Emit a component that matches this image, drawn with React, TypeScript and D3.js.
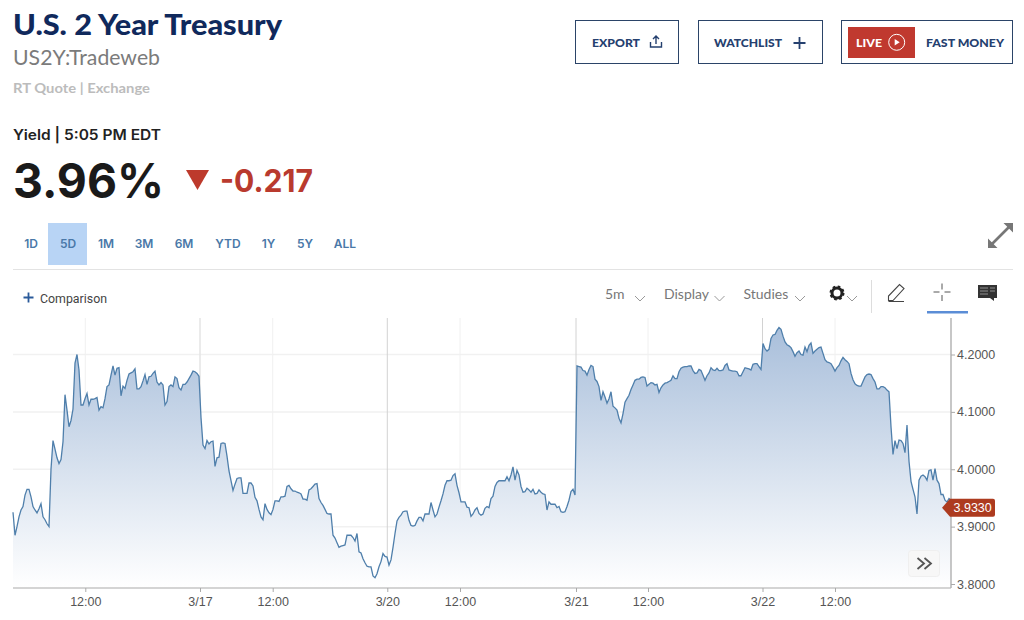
import { useEffect, useRef } from "react";
import * as d3 from "d3";

// yield readings, one every 4 bars of the 5-minute chart, split by session
const session0316 = [
  3.925, 3.885, 3.9, 3.917, 3.929, 3.935, 3.955, 3.965, 3.965, 3.952, 3.935, 3.929, 3.924, 3.931, 3.94, 3.917,
  3.912, 3.905, 3.9, 4.0, 4.05, 4.035, 4.02, 4.01, 4.017, 4.048, 4.13, 4.103, 4.074, 4.085, 4.105, 4.185,
  4.2, 4.173, 4.112, 4.112, 4.123, 4.132, 4.112, 4.122, 4.122, 4.123, 4.125, 4.103, 4.109, 4.107, 4.123, 4.144,
  4.147, 4.164, 4.18, 4.164, 4.176, 4.177, 4.128, 4.145, 4.141, 4.155, 4.166, 4.168, 4.17, 4.175, 4.14, 4.14,
  4.144, 4.154, 4.165, 4.148, 4.161, 4.162, 4.167, 4.171, 4.152, 4.147, 4.151, 4.147, 4.112, 4.118, 4.144, 4.147,
  4.144, 4.161, 4.158, 4.142, 4.138, 4.148, 4.148, 4.152, 4.158, 4.164, 4.171, 4.17, 4.167, 4.162,
];
const session0317 = [
  4.09, 4.042, 4.036, 4.05, 4.044, 4.048, 4.049, 4.005, 4.02, 4.021, 4.045, 4.046, 4.045, 4.023, 3.997, 3.98,
  3.963, 3.974, 3.984, 3.985, 3.985, 3.958, 3.958, 3.958, 3.976, 3.976, 3.971, 3.951, 3.945, 3.93, 3.917, 3.912,
  3.94, 3.93, 3.924, 3.921, 3.93, 3.945, 3.945, 3.944, 3.952, 3.952, 3.953, 3.97, 3.972, 3.966, 3.962, 3.962,
  3.96, 3.959, 3.957, 3.948, 3.948, 3.946, 3.964, 3.966, 3.97, 3.974, 3.975, 3.949, 3.942, 3.937, 3.93, 3.923,
  3.922, 3.922, 3.885, 3.88, 3.872, 3.864, 3.866, 3.867, 3.868, 3.885, 3.885, 3.885, 3.881, 3.875, 3.888, 3.856,
  3.854, 3.844, 3.837, 3.831, 3.83, 3.83, 3.814, 3.811, 3.818, 3.83, 3.839, 3.853, 3.848, 3.847, 3.833,
];
const session0320 = [
  3.842, 3.864, 3.888, 3.91, 3.916, 3.92, 3.926, 3.927, 3.927, 3.911, 3.902, 3.901, 3.902, 3.91, 3.916, 3.916,
  3.91, 3.922, 3.922, 3.922, 3.942, 3.929, 3.917, 3.922, 3.934, 3.945, 3.957, 3.972, 3.98, 3.98, 3.981, 3.989,
  3.992, 3.972, 3.959, 3.943, 3.943, 3.943, 3.934, 3.933, 3.918, 3.922, 3.929, 3.933, 3.923, 3.92, 3.922, 3.932,
  3.935, 3.933, 3.949, 3.953, 3.97, 3.977, 3.98, 3.98, 3.98, 3.98, 3.987, 3.98, 3.99, 4.004, 3.981, 3.998,
  3.99, 3.97, 3.96, 3.961, 3.967, 3.964, 3.96, 3.965, 3.957, 3.958, 3.964, 3.96, 3.957, 3.956, 3.929, 3.943,
  3.939, 3.939, 3.939, 3.933, 3.935, 3.926, 3.925, 3.926, 3.935, 3.946, 3.961, 3.965, 3.955,
];
const session0321 = [
  4.18, 4.179, 4.178, 4.172, 4.171, 4.164, 4.174, 4.181, 4.179, 4.157, 4.153, 4.144, 4.12, 4.135, 4.126, 4.115,
  4.123, 4.135, 4.11, 4.107, 4.103, 4.089, 4.081, 4.097, 4.117, 4.123, 4.129, 4.139, 4.147, 4.155, 4.157, 4.157,
  4.16, 4.161, 4.16, 4.145, 4.148, 4.151, 4.15, 4.147, 4.148, 4.134, 4.142, 4.147, 4.15, 4.151, 4.153, 4.155,
  4.163, 4.158, 4.158, 4.17, 4.176, 4.178, 4.179, 4.179, 4.18, 4.18, 4.172, 4.167, 4.168, 4.174, 4.172, 4.164,
  4.155, 4.163, 4.168, 4.177, 4.173, 4.172, 4.176, 4.172, 4.172, 4.173, 4.181, 4.184, 4.173, 4.172, 4.171, 4.171,
  4.17, 4.163, 4.163, 4.17, 4.177, 4.176, 4.175, 4.173, 4.183, 4.184, 4.184, 4.179, 4.174,
];
const session0322 = [
  4.219, 4.21, 4.206, 4.209, 4.228, 4.234, 4.235, 4.242, 4.247, 4.244, 4.232, 4.222, 4.217, 4.215, 4.212, 4.205,
  4.197, 4.203, 4.206, 4.2, 4.199, 4.213, 4.205, 4.216, 4.22, 4.202, 4.206, 4.209, 4.212, 4.213, 4.202, 4.191,
  4.187, 4.186, 4.184, 4.178, 4.171, 4.177, 4.181, 4.189, 4.195, 4.191, 4.188, 4.184, 4.167, 4.156, 4.149, 4.146,
  4.145, 4.145, 4.153, 4.161, 4.165, 4.166, 4.165, 4.158, 4.152, 4.14, 4.14, 4.144, 4.144, 4.142, 4.138, 4.135,
  4.074, 4.026, 4.05, 4.036, 4.051, 4.05, 4.045, 4.029, 4.077, 4.014, 3.979, 3.965, 3.952, 3.922, 3.981, 3.988,
  3.99, 3.987, 3.981, 3.998, 3.999, 3.981, 4.001, 3.981, 3.975, 3.956, 3.956, 3.946, 3.943, 3.949, 3.946,
];
const yields = [...session0316, ...session0317, ...session0320, ...session0321, ...session0322];

const yTicks = [3.8, 3.9, 4.0, 4.1, 4.2];
const timeTicks = [36.15, 93.5, 129.85, 187.15, 223.5, 281.5, 317.5, 374.75, 411];
const timeLabels = ["12:00", "3/17", "12:00", "3/20", "12:00", "3/21", "12:00", "3/22", "12:00"];
const lastQuote = 3.933;

const ranges = ["1D", "5D", "1M", "3M", "6M", "YTD", "1Y", "5Y", "ALL"];
const rangeCenters = [31, 68, 106, 144, 184, 228, 268.5, 305, 345];

const left = 13;
const right = 951;
const top = 318;
const bottom = 588;

const x = d3.scaleLinear().domain([0, yields.length - 1]).range([left, right]);
const y = d3.scaleLinear().domain([3.8, 4.2]).range([584, 354.5]);

const HEAD = "Lato, 'Open Sans', sans-serif";
const NUMS = "Inter, 'Open Sans', sans-serif";
const CHART = "'Liberation Sans', Arial, sans-serif";
const NAVY = "#25406f";

function Chevron({ cx, cy }: { cx: number; cy: number }) {
  return <path d={`M${cx - 5},${cy - 2}L${cx},${cy + 3}L${cx + 5},${cy - 2}`} fill="none" stroke="#999" strokeWidth={1} />;
}

export default function App() {
  const xAxisRef = useRef<SVGGElement>(null);
  const yAxisRef = useRef<SVGGElement>(null);

  useEffect(() => {
    const xAxis = d3.axisBottom(x)
      .tickValues(timeTicks)
      .tickSize(4)
      .tickPadding(5)
      .tickFormat((_, i) => timeLabels[i]);
    const yAxis = d3.axisRight(y)
      .tickValues(yTicks)
      .tickSize(4)
      .tickPadding(2)
      .tickFormat(d3.format(".4f") as any);

    const gx = d3.select(xAxisRef.current!).call(xAxis as any);
    const gy = d3.select(yAxisRef.current!).call(yAxis as any);
    gx.select(".domain").remove();
    gy.select(".domain").remove();
    for (const g of [gx, gy]) {
      g.selectAll("line").attr("stroke", "#aaa");
      g.selectAll("text").attr("fill", "#555").style("font-family", CHART);
    }
    gx.selectAll("text").style("font-size", "12.5px");
    gy.selectAll("text").style("font-size", "12.5px");
  }, []);

  const line = d3.line<number>().x((_, i) => x(i)).y(d => y(d));
  const area = d3.area<number>().x((_, i) => x(i)).y0(bottom).y1(d => y(d));
  const tagY = y(lastQuote);

  return (
    <svg width={1024} height={620} style={{ position: "absolute", left: 0, top: 0, background: "#fff" }}>
      <defs>
        <linearGradient id="fade" gradientUnits="userSpaceOnUse" x1={0} y1={328} x2={0} y2={588}>
          <stop offset="0%" stopColor="#a9bfdb" />
          <stop offset="100%" stopColor="#ffffff" />
        </linearGradient>
      </defs>

      {/* header */}
      <g fontFamily={HEAD}>
        <text x={13} y={35} fontSize={28} fontWeight={900} fill="#10295c" textLength={269} lengthAdjust="spacingAndGlyphs">U.S. 2 Year Treasury</text>
        <text x={13} y={65} fontSize={20.5} fill="#7b7b7b" textLength={147} lengthAdjust="spacingAndGlyphs">US2Y:Tradeweb</text>
        <text x={13} y={93} fontSize={14} fontWeight={700} fill="#bcbcbc" textLength={137} lengthAdjust="spacingAndGlyphs">RT Quote | Exchange</text>
        <text x={13} y={140} fontFamily={NUMS} fontSize={14.5} fontWeight={600} fill="#222" textLength={148} lengthAdjust="spacingAndGlyphs">Yield | 5:05 PM EDT</text>
        <text x={13} y={198} fontFamily={NUMS} fontSize={48} fontWeight={700} fill="#1a1a1a" textLength={151} lengthAdjust="spacingAndGlyphs">3.96%</text>
        <path d="M186,170L209,170L197.5,190Z" fill="#bd3a2c" />
        <text x={220} y={192} fontFamily={NUMS} fontSize={31} fontWeight={700} fill="#b93a2e" textLength={93} lengthAdjust="spacingAndGlyphs">-0.217</text>
      </g>

      {/* action buttons */}
      <g fontFamily={HEAD} fontSize={12} fontWeight={900} fill={NAVY}>
        <rect x={575.5} y={20.5} width={103} height={43} fill="none" stroke="#2b4468" />
        <text x={592} y={46.5} textLength={48} lengthAdjust="spacingAndGlyphs">EXPORT</text>
        <path d="M656,44V36M653,39L656,36L659,39M650.500,42V47H661.500V42" fill="none" stroke={NAVY} strokeWidth={1.4} />
        <rect x={698.5} y={20.5} width={124} height={43} fill="none" stroke="#2b4468" />
        <text x={714} y={46.5} textLength={68} lengthAdjust="spacingAndGlyphs">WATCHLIST</text>
        <path d="M799.500,37V49M793.500,43H805.500" fill="none" stroke={NAVY} strokeWidth={1.8} />
        <rect x={841.5} y={20.5} width={171} height={43} fill="none" stroke="#2b4468" />
        <rect x={848} y={27} width={67} height={31} fill="#c0392f" />
        <text x={856} y={46.5} fill="#fff" textLength={26} lengthAdjust="spacingAndGlyphs">LIVE</text>
        <circle cx={896.7} cy={42.3} r={8} fill="none" stroke="#fff" strokeWidth={1} />
        <path d="M894.700,39L899.700,42.300L894.700,45.600Z" fill="#fff" />
        <text x={926} y={46.5} textLength={78} lengthAdjust="spacingAndGlyphs">FAST MONEY</text>
      </g>

      {/* range selector */}
      <rect x={48} y={223} width={39} height={42} fill="#b8d4f5" />
      <g fontFamily={NUMS} fontSize={12} fontWeight={600} fill="#4a78a8" textAnchor="middle">
        {ranges.map((r, i) => (
          <text key={r} x={rangeCenters[i]} y={248}>{r}</text>
        ))}
      </g>
      <path d="M988,248V238.500L997.500,248ZM1013,223V232.500L1003.500,223Z" fill="#777" />
      <line x1={992} y1={244} x2={1009} y2={227} stroke="#777" strokeWidth={2.6} />
      <line x1={13} x2={1013} y1={269.5} y2={269.5} stroke="#e3e3e3" />

      {/* toolbar */}
      <path d="M28.500,292.500V302.500M23.500,297.500H33.500" stroke="#2a5a9a" strokeWidth={1.8} />
      <text x={40} y={303} fontFamily="Roboto, sans-serif" fontSize={12} fill="#444" textLength={67} lengthAdjust="spacingAndGlyphs">Comparison</text>
      <g fontFamily={HEAD} fontSize={14} fill="#777">
        <text x={605} y={299}>5m</text>
        <text x={664} y={299}>Display</text>
        <text x={743.5} y={299}>Studies</text>
      </g>
      <Chevron cx={640} cy={298} />
      <Chevron cx={719.500} cy={298} />
      <Chevron cx={800} cy={298} />
      <Chevron cx={852} cy={298} />
      <circle cx={837} cy={293} r={5} fill="none" stroke="#222" strokeWidth={3} />
      <circle cx={837} cy={293} r={6.500} fill="none" stroke="#222" strokeWidth={2} strokeDasharray="2.600 2.500" />
      <line x1={871.5} x2={871.5} y1={280} y2={313} stroke="#ddd" />
      <path d="M888.500,300.500V296L899.500,284.500L904,288.500L893,300.500ZM888.500,301.500H904" fill="none" stroke="#444" strokeWidth={1.1} />
      <path d="M942,283.500V289.500M942,295V301M933.500,292H939.500M944.500,292H950.500" stroke="#555" strokeWidth={1} />
      <rect x={927} y={311} width={41} height={2.5} fill="#5b8dd6" />
      <path d="M978,285H997V298H994V301L990,298H978Z" fill="#333" />
      <path d="M980,288H988M980,291H988M980,294H988M990,288H995M990,291H995" stroke="#aaa" strokeWidth={0.8} />

      {/* grid */}
      {yTicks.map(t => (
        <line key={t} x1={left} x2={right} y1={y(t)} y2={y(t)} stroke="#f1f1f1" strokeWidth={1.5} />
      ))}
      {timeTicks.map((t, i) => {
        const isDate = timeLabels[i].includes("/");
        return (
          <line key={t} x1={x(t)} x2={x(t)} y1={top} y2={bottom}
            stroke={isDate ? (i === 1 ? "#e4e4e4" : "#d2d2d2") : "#f0f0f0"} strokeWidth={i === 1 ? 1.5 : 1} />
        );
      })}

      {/* series */}
      <path d={area(yields)!} fill="url(#fade)" />
      <path d={line(yields)!} fill="none" stroke="#4f7fab" strokeWidth={1.3} />

      {/* axes */}
      <line x1={left} x2={right} y1={bottom} y2={bottom} stroke="#c6c6c6" strokeWidth={1.5} />
      <line x1={right} x2={right} y1={top} y2={bottom} stroke="#b5b5b5" strokeWidth={1.5} />
      <g ref={xAxisRef} transform={`translate(0,${bottom})`} />
      <g ref={yAxisRef} transform={`translate(${right},0)`} />

      {/* last quote tag */}
      <path d={`M942,${tagY}L950,${tagY - 9}H993a2,2 0 0 1 2,2V${tagY + 7}a2,2 0 0 1 -2,2H950Z`} fill="#ad3b1f" />
      <text x={953.5} y={tagY + 4.5} fontFamily={CHART} fontSize={12.5} fill="#fff">{lastQuote.toFixed(4)}</text>

      {/* scroll-to-latest button */}
      <rect x={908.5} y={550.5} width={31} height={26} rx={3} fill="#f7f7f7" stroke="#efefef" />
      <path d="M917.500,558L924,563.500L917.500,569M924.500,558L931,563.500L924.500,569" fill="none" stroke="#555" strokeWidth={1.8} />
    </svg>
  );
}
